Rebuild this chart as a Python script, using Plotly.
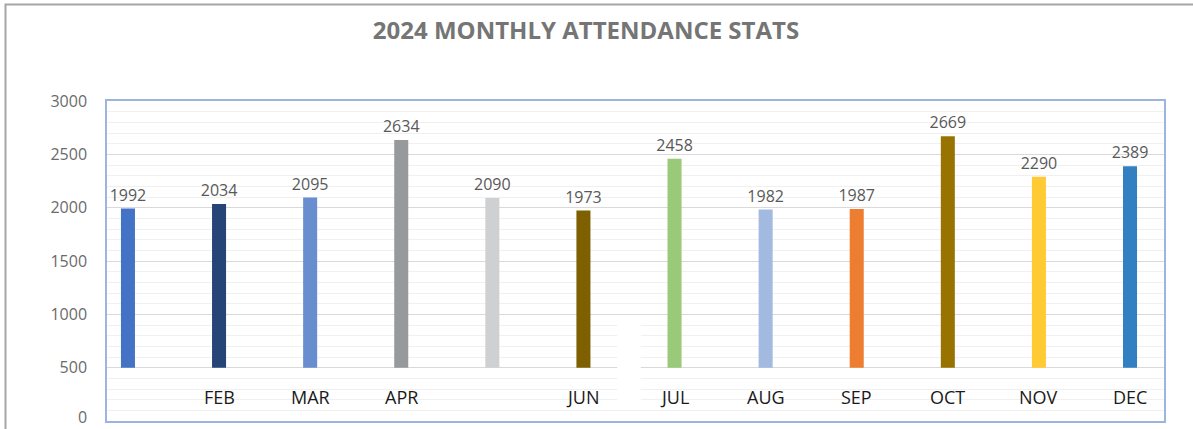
import plotly.graph_objects as go

months = ["JAN", "FEB", "MAR", "APR", "MAY", "JUN", "JUL", "AUG", "SEP", "OCT", "NOV", "DEC"]
attendance = [1992, 2034, 2095, 2634, 2090, 1973, 2458, 1982, 1987, 2669, 2290, 2389]
month_labels = ["", "FEB", "MAR", "APR", "", "JUN", "JUL", "AUG", "SEP", "OCT", "NOV", "DEC"]
bar_colors = ["#4472C4", "#264478", "#698ED0", "#98999B", "#CFD0D1", "#7F6000",
              "#9BC97A", "#A2B9E0", "#ED7D31", "#997300", "#FFCA33", "#327FC2"]
y_ticks = [0, 500, 1000, 1500, 2000, 2500, 3000]
BASE = 500

W, H = 1193, 429
L, R, T, B = 107, 29, 101, 8
PW = W - L - R

fig = go.Figure()
fig.add_trace(go.Bar(
    x=months,
    y=[v - BASE for v in attendance],
    base=BASE,
    marker=dict(color=bar_colors, line=dict(width=0)),
    text=[str(v) for v in attendance],
    textposition="outside",
    constraintext="none",
    textfont=dict(family="Open Sans", size=16, color="#595959"),
    cliponaxis=False,
    hovertemplate="%{x}: %{text}<extra></extra>",
))

for m, lab in zip(months, month_labels):
    if lab:
        fig.add_annotation(x=m, y=225, xref="x", yref="y", text=lab, showarrow=False,
                           font=dict(family="Open Sans", size=18, color="#1a1a1a"),
                           xanchor="center", yanchor="middle")

# lowest tick label (kept as annotation so it stays inside the figure edge)
fig.add_annotation(x=(89 - L) / PW, xref="paper", y=y_ticks[0], yref="y", text=str(y_ticks[0]),
                   showarrow=False, xanchor="right", yanchor="middle", yshift=4,
                   font=dict(family="Open Sans", size=16, color="#6b6b6b"))

# white break in the grid between JUN and JUL
fig.add_shape(type="rect", xref="x", yref="y", x0=5.37, x1=5.63, y0=103, y1=919,
              fillcolor="white", line=dict(width=0), layer="between")

# outer chart frame
fig.add_shape(type="rect", xref="paper", yref="paper",
              x0=(5.5 - L) / PW, x1=1.2,
              y0=-0.3, y1=(H - B - 4.5) / (H - T - B),
              line=dict(color="#A6A6A6", width=2), fillcolor="rgba(0,0,0,0)", layer="below")

fig.update_layout(
    width=W, height=H,
    margin=dict(l=L, r=R, t=T, b=B),
    paper_bgcolor="white", plot_bgcolor="white",
    showlegend=False,
    bargap=0.846,
    title=dict(text="<b>2024 MONTHLY ATTENDANCE STATS</b>", x=586 / W, xanchor="center",
               y=1 - 31 / H, yanchor="middle", yref="container",
               font=dict(family="Open Sans", size=24, color="#757575")),
    font=dict(family="Open Sans"),
)
fig.update_xaxes(
    type="category", range=[-0.23, 11.373], showticklabels=False, ticks="",
    showgrid=False, showline=True, mirror=True, linecolor="#9CB4E0", linewidth=1.5,
    zeroline=False, fixedrange=True,
)
fig.update_yaxes(
    range=[0, 3000], tickvals=y_ticks[1:], ticktext=[str(t) for t in y_ticks[1:]],
    tickfont=dict(family="Open Sans", size=16, color="#6b6b6b"),
    ticks="outside", ticklen=15, tickcolor="rgba(0,0,0,0)",
    showgrid=True, gridcolor="#D9D9D9", gridwidth=1.2,
    minor=dict(dtick=100, showgrid=True, gridcolor="#F0F0F0", gridwidth=1),
    showline=True, mirror=True, linecolor="#9CB4E0", linewidth=1.5,
    zeroline=False, fixedrange=True,
)

fig.write_html("out.html", config={"displayModeBar": False},
               post_script="document.body.style.margin='0';document.body.style.overflow='hidden';")
